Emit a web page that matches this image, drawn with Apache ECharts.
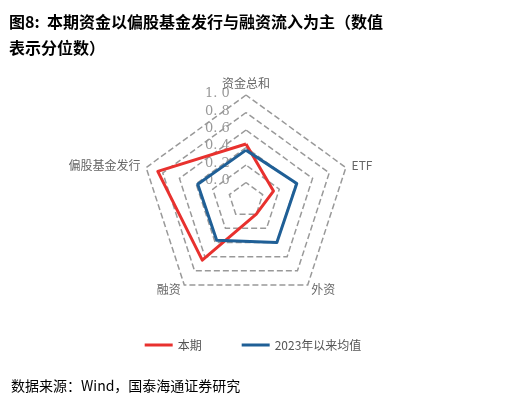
<!DOCTYPE html><html><head><meta charset="utf-8"><script src="https://cdn.jsdelivr.net/npm/echarts@6/dist/echarts.min.js"></script>
<style>body{margin:0}#c{width:506px;height:400px}</style></head><body><div id="c"></div><script>
const indicators=['资金总和','偏股基金发行','融资','外资','ETF'];
const current=[0.44,0.86,0.65,0.0,0.13];
const avg2023=[0.37,0.38,0.37,0.40,0.41];
const ch=echarts.init(document.getElementById('c'));
const f='"Noto Sans CJK SC"';
ch.setOption({
title:[{text:'图8:  本期资金以偏股基金发行与融资流入为主（数值\n表示分位数）',left:4,top:4,textStyle:{fontFamily:f,fontSize:16,fontWeight:'bold',color:'#000',lineHeight:26}},
{text:'数据来源：Wind，国泰海通证券研究',left:6,top:374,textStyle:{fontFamily:f,fontSize:14,fontWeight:'normal',color:'#000'}}],
legend:{bottom:44,left:'center',itemGap:40,itemWidth:28,icon:'path://M0,0H28V3H0Z',textStyle:{fontFamily:f,fontSize:12,color:'#555'},data:['本期','2023年以来均值']},
radar:{center:[246,200],radius:105,min:-0.2,max:1.0,splitNumber:6,
indicator:indicators.map(n=>({name:n,min:-0.2,max:1.0})),
axisName:{color:'#666',fontFamily:f,fontSize:12},nameGap:6,
splitLine:{lineStyle:{type:'dashed',color:'#999',width:1.5}},splitArea:{show:false},axisLine:{show:false},
axisLabel:{show:false}},
series:[{type:'radar',symbol:'none',data:[
{name:'本期',value:current,lineStyle:{color:'#E8312E',width:3},itemStyle:{color:'#E8312E'}},
{name:'2023年以来均值',value:avg2023,lineStyle:{color:'#1F5F96',width:3},itemStyle:{color:'#1F5F96'}}]}],
graphic:[0,0.2,0.4,0.6,0.8,1.0].map(v=>({type:'text',left:205,top:200-(v+0.2)*87.3-8,style:{text:v.toFixed(1).replace('.','. '),fill:'#999',font:'13px "DejaVu Serif"'}}))
});
</script></body></html>
